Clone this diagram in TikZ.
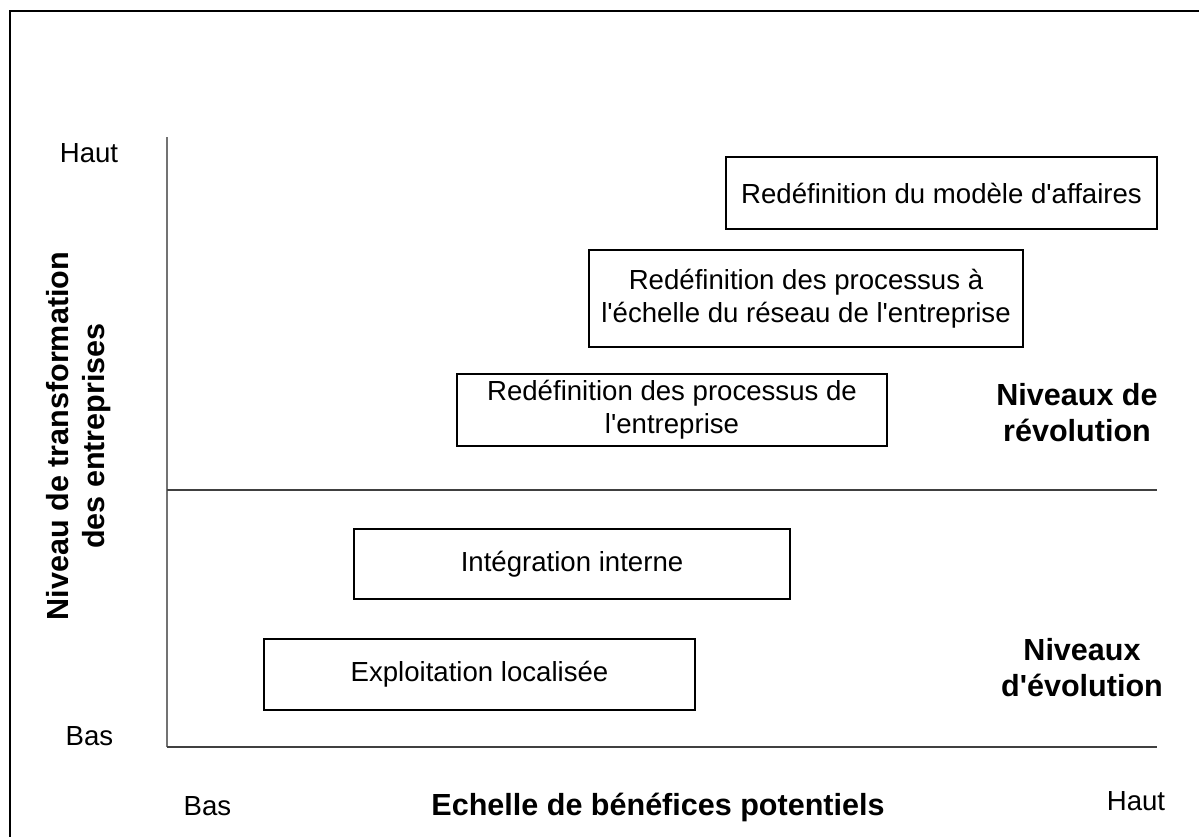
\documentclass[tikz,border=0pt]{standalone}
\usepackage{fontspec}
\setmainfont{Liberation Sans}
\newcommand{\apos}{\textquotesingle}
\begin{document}
\begin{tikzpicture}[x=0.75pt,y=-0.75pt,
  box/.style={draw=black,line width=0.9pt,inner sep=0pt,align=center,fill=white,
    font=\fontsize{20.7}{24.75}\selectfont},
  lbl/.style={inner sep=0pt,font=\fontsize{20.7}{24.75}\selectfont},
  blbl/.style={inner sep=0pt,align=center,font=\fontsize{22.9}{27}\selectfont\bfseries},
  axisline/.style={line width=1.5pt,draw=black!55},
  xaxisline/.style={line width=1.5pt,draw=black!75},
  frameline/.style={line width=1.6pt,draw=black}]
\useasboundingbox (0,0) rectangle (1199,836);
\fill[white] (0,0) rectangle (1199,836);
% outer frame (only left and top edges visible)
\coordinate (fbl) at (10,840);
\coordinate (ftl) at (10,11);
\coordinate (ftr) at (1205,11);
\draw[frameline] (fbl) -- (ftl) -- (ftr);
% axes
\coordinate (o) at (167,747);
\coordinate (ytop) at (167,137);
\coordinate (xend) at (1157,747);
\coordinate (ml) at (167,490);
\coordinate (mr) at (1157,490);
\draw[axisline] (o) -- (ytop);
\draw[xaxisline] (o) -- (xend);
\draw[xaxisline] (ml) -- (mr);
% boxes
\node[box,minimum width=323.25pt,minimum height=54pt] (b1) at (941.5,193) {Redéfinition du modèle d\apos affaires};
\node[box,minimum width=325.5pt,minimum height=72.75pt] (b2) at (806,298.5) {Redéfinition des processus à\\l\apos échelle du réseau de l\apos entreprise};
\node[box,minimum width=322.5pt,minimum height=54pt] (b3) at (672,410) {Redéfinition des processus de\\l\apos entreprise};
\node[box,minimum width=327pt,minimum height=52.5pt] (b4) at (572,564) {Intégration interne};
\node[box,minimum width=323.25pt,minimum height=53.25pt] (b5) at (479.5,674.5) {Exploitation localisée};
% axis labels
\node[lbl,anchor=base] (yh) at (89,162) {Haut};
\node[lbl,anchor=base] (yb) at (89.5,745) {Bas};
\node[lbl,anchor=base] (xb) at (207.5,815) {Bas};
\node[lbl,anchor=base] (xh) at (1136,810) {Haut};
\node[blbl,anchor=base] (xt) at (658,815) {Echelle de bénéfices potentiels};
\node[blbl,rotate=90] (yt) at (79,436) {Niveau de transformation\\des entreprises};
\node[blbl] (rev) at (1077,413) {Niveaux de\\révolution};
\node[blbl] (evo) at (1082,668) {Niveaux\\d\apos évolution};
\end{tikzpicture}
\end{document}
